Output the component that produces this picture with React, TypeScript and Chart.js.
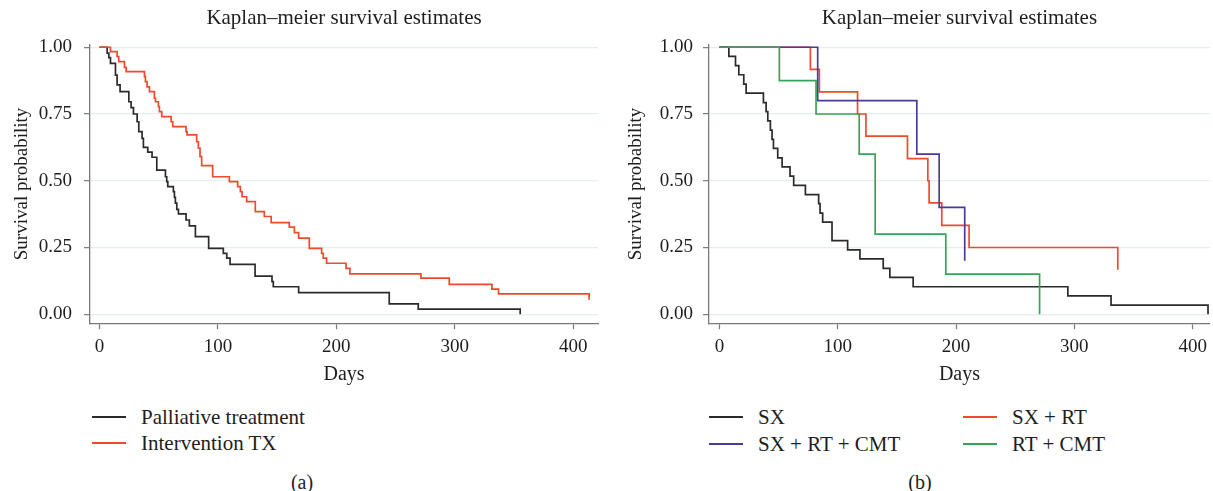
import React, { useEffect, useRef } from "react";
import { Chart, registerables } from "chart.js";

Chart.register(...registerables);

const FONT = "'Liberation Serif', 'Times New Roman', serif";
const TEXT = "#1e1e1e";
const AXIS = "#7a7a7a";
const GRID = "#e4edf0";

const chartTitle = "Kaplan–meier survival estimates";
const xAxisTitle = "Days";
const yAxisTitle = "Survival probability";
const xTicks = [0, 100, 200, 300, 400];
const yTicks = [0, 0.25, 0.5, 0.75, 1];

// Panel (a)
const palliativeDays = [0, 6.5, 7.9, 9.3, 13.5, 14.9, 17.4, 24.8, 26.7, 28.7, 31.8, 33.2, 36, 37.1, 40.8, 44.4, 48.4, 55.7, 56.8, 57.7, 62.4, 63.3, 64.1, 65.3, 66.7, 73.1, 75.9, 81, 92.2, 104.6, 107.5, 110.3, 131.4, 145.7, 146.8, 168.2, 244.7, 269.2, 355.3];
const palliativeSurv = [1, 0.978, 0.961, 0.94, 0.896, 0.859, 0.834, 0.796, 0.774, 0.75, 0.721, 0.684, 0.659, 0.625, 0.607, 0.588, 0.54, 0.515, 0.497, 0.478, 0.459, 0.438, 0.416, 0.393, 0.376, 0.353, 0.331, 0.291, 0.247, 0.228, 0.21, 0.187, 0.143, 0.122, 0.103, 0.081, 0.039, 0.019, 0];
const interventionDays = [0, 9.3, 14.9, 16.3, 21.1, 22.5, 38, 38.8, 40.2, 42.2, 46.4, 47.3, 49.8, 50.6, 52.6, 60.5, 61.9, 73.1, 74, 82.1, 83.5, 84.9, 86.3, 95.6, 109.7, 116.7, 119, 120.4, 124.3, 131.6, 139.2, 145, 160.3, 164.6, 168.2, 177.2, 187.6, 189, 191.8, 208.2, 211.5, 271.5, 295.4, 331.4, 337, 413.5];
const interventionSurv = [1, 0.984, 0.965, 0.946, 0.925, 0.909, 0.89, 0.871, 0.852, 0.834, 0.809, 0.796, 0.778, 0.759, 0.74, 0.721, 0.703, 0.684, 0.672, 0.646, 0.622, 0.59, 0.557, 0.515, 0.497, 0.478, 0.459, 0.44, 0.422, 0.384, 0.366, 0.343, 0.326, 0.306, 0.285, 0.247, 0.228, 0.21, 0.191, 0.172, 0.151, 0.135, 0.112, 0.094, 0.076, 0.054];

// Panel (b)
const sxDays = [0, 7.9, 13.5, 16.3, 20.5, 22.5, 37.1, 39.4, 40.8, 43, 44.4, 45.6, 49.2, 52.9, 59.6, 62.7, 72.6, 83.8, 85, 87.2, 95.1, 108.3, 118.7, 138.4, 144, 163.7, 294.5, 331, 413];
const sxSurv = [1, 0.966, 0.931, 0.897, 0.862, 0.828, 0.793, 0.759, 0.724, 0.69, 0.655, 0.621, 0.586, 0.552, 0.517, 0.483, 0.448, 0.414, 0.379, 0.345, 0.276, 0.241, 0.207, 0.172, 0.138, 0.103, 0.069, 0.034, 0];
const sxRtDays = [0, 76.8, 84.4, 116.7, 123.8, 158.9, 176.1, 177.2, 187.9, 211, 336.7];
const sxRtSurv = [1, 0.917, 0.833, 0.75, 0.667, 0.583, 0.5, 0.417, 0.333, 0.25, 0.167];
const sxRtCmtDays = [0, 83, 166.8, 185.7, 207.3];
const sxRtCmtSurv = [1, 0.8, 0.6, 0.4, 0.2];
const rtCmtDays = [0, 50.6, 81.6, 118.1, 131.6, 191.3, 270.6];
const rtCmtSurv = [1, 0.875, 0.75, 0.6, 0.3, 0.15, 0];

type Series = { label: string; color: string; days: number[]; surv: number[]; order: number };

const seriesA: Series[] = [
  { label: "Palliative treatment", color: "#2b2b2b", days: palliativeDays, surv: palliativeSurv, order: 1 },
  { label: "Intervention TX", color: "#ee4a2c", days: interventionDays, surv: interventionSurv, order: 0 },
];
const seriesB: Series[] = [
  { label: "SX", color: "#2b2b2b", days: sxDays, surv: sxSurv, order: 3 },
  { label: "SX + RT", color: "#ee4a2c", days: sxRtDays, surv: sxRtSurv, order: 2 },
  { label: "SX + RT + CMT", color: "#4a3a9a", days: sxRtCmtDays, surv: sxRtCmtSurv, order: 1 },
  { label: "RT + CMT", color: "#34a45a", days: rtCmtDays, surv: rtCmtSurv, order: 0 },
];

type PanelOpts = {
  yWidth: number;
  yTitlePad: number;
  yTickPad: number;
  xMin: number;
  xMax: number;
  padRight: number;
};

function makeConfig(series: Series[], o: PanelOpts): any {
  const tickFont = { family: FONT, size: 19, weight: "normal" as const };
  return {
    type: "line",
    data: {
      datasets: series.map((s) => ({
        label: s.label,
        data: s.days.map((d, i) => ({ x: d, y: s.surv[i] })),
        borderColor: s.color,
        backgroundColor: s.color,
        borderWidth: 1.7,
        pointRadius: 0,
        stepped: true,
        fill: false,
        order: s.order,
        clip: 6,
      })),
    },
    options: {
      animation: false,
      responsive: false,
      events: [],
      layout: { padding: { left: 0, right: o.padRight, top: 0, bottom: 0 } },
      plugins: {
        legend: { display: false },
        tooltip: { enabled: false },
        title: {
          display: true,
          text: chartTitle,
          fullSize: false,
          color: TEXT,
          font: { family: FONT, size: 21, weight: "normal" },
          padding: { top: 6, bottom: 13.4 },
        },
      },
      scales: {
        x: {
          type: "linear",
          min: o.xMin,
          max: o.xMax,
          afterBuildTicks: (s: any) => {
            s.ticks = xTicks.map((v) => ({ value: v }));
          },
          afterFit: (s: any) => {
            s.height = 68.7;
          },
          grid: { drawOnChartArea: false, drawTicks: true, tickLength: 6, tickColor: AXIS, tickWidth: 1.2 },
          border: { display: true, color: AXIS, width: 1.3 },
          ticks: { color: TEXT, font: tickFont, padding: 6, maxRotation: 0, autoSkip: false },
          title: { display: true, text: xAxisTitle, color: TEXT, font: { family: FONT, size: 20, weight: "normal" }, padding: { top: 0, bottom: 5 } },
        },
        y: {
          type: "linear",
          min: -0.034,
          max: 1.01,
          afterBuildTicks: (s: any) => {
            s.ticks = yTicks.map((v) => ({ value: v }));
          },
          afterFit: (s: any) => {
            s.width = o.yWidth;
          },
          grid: { color: GRID, lineWidth: 1.3, drawTicks: true, tickLength: 6, tickColor: AXIS, tickWidth: 1.2 },
          border: { display: true, color: AXIS, width: 1.3 },
          ticks: {
            color: TEXT,
            font: tickFont,
            padding: o.yTickPad,
            autoSkip: false,
            callback: (v: any) => Number(v).toFixed(2),
          },
          title: { display: true, text: yAxisTitle, color: TEXT, font: tickFont, padding: { top: o.yTitlePad, bottom: 0 } },
        },
      },
    },
  };
}

function Panel(props: { series: Series[]; opts: PanelOpts; left: number; width: number }) {
  const ref = useRef<HTMLCanvasElement | null>(null);
  useEffect(() => {
    if (!ref.current) return;
    const chart = new Chart(ref.current, makeConfig(props.series, props.opts));
    return () => chart.destroy();
  }, []);
  return (
    <canvas
      ref={ref}
      width={props.width}
      height={392}
      style={{ position: "absolute", left: props.left, top: 0, width: props.width, height: 392 }}
    />
  );
}

function LegendItem(props: { s: Series; x: number; y: number; textX: number }) {
  return (
    <>
      <div
        style={{
          position: "absolute",
          left: props.x,
          top: props.y - 1,
          width: 34,
          height: 2,
          background: props.s.color,
        }}
      />
      <div
        style={{
          position: "absolute",
          left: props.textX,
          top: props.y - 13,
          height: 26,
          lineHeight: "26px",
          fontFamily: FONT,
          fontSize: 21,
          color: TEXT,
          whiteSpace: "nowrap",
        }}
      >
        {props.s.label}
      </div>
    </>
  );
}

function Caption(props: { text: string; cx: number }) {
  return (
    <div
      style={{
        position: "absolute",
        left: props.cx - 40,
        width: 80,
        top: 469,
        height: 26,
        lineHeight: "26px",
        textAlign: "center",
        fontFamily: FONT,
        fontSize: 20,
        color: TEXT,
      }}
    >
      {props.text}
    </div>
  );
}

export default function App() {
  return (
    <div
      style={{
        position: "fixed",
        left: 0,
        top: 0,
        width: 1213,
        height: 491,
        background: "#fff",
        overflow: "hidden",
      }}
    >
      <Panel
        series={seriesA}
        left={0}
        width={605}
        opts={{ yWidth: 90, yTitlePad: 11, yTickPad: 12, xMin: -8, xMax: 421, padRight: 7 }}
      />
      <Panel
        series={seriesB}
        left={615}
        width={598}
        opts={{ yWidth: 94, yTitlePad: 9.3, yTickPad: 10, xMin: -8.9, xMax: 414.6, padRight: 3 }}
      />
      <LegendItem s={seriesA[0]} x={92} y={417} textX={141} />
      <LegendItem s={seriesA[1]} x={92} y={443} textX={141} />
      <LegendItem s={seriesB[0]} x={709} y={417} textX={758} />
      <LegendItem s={seriesB[1]} x={963} y={417} textX={1012} />
      <LegendItem s={seriesB[2]} x={709} y={444} textX={758} />
      <LegendItem s={seriesB[3]} x={963} y={444} textX={1012} />
      <Caption text="(a)" cx={302} />
      <Caption text="(b)" cx={920} />
    </div>
  );
}
